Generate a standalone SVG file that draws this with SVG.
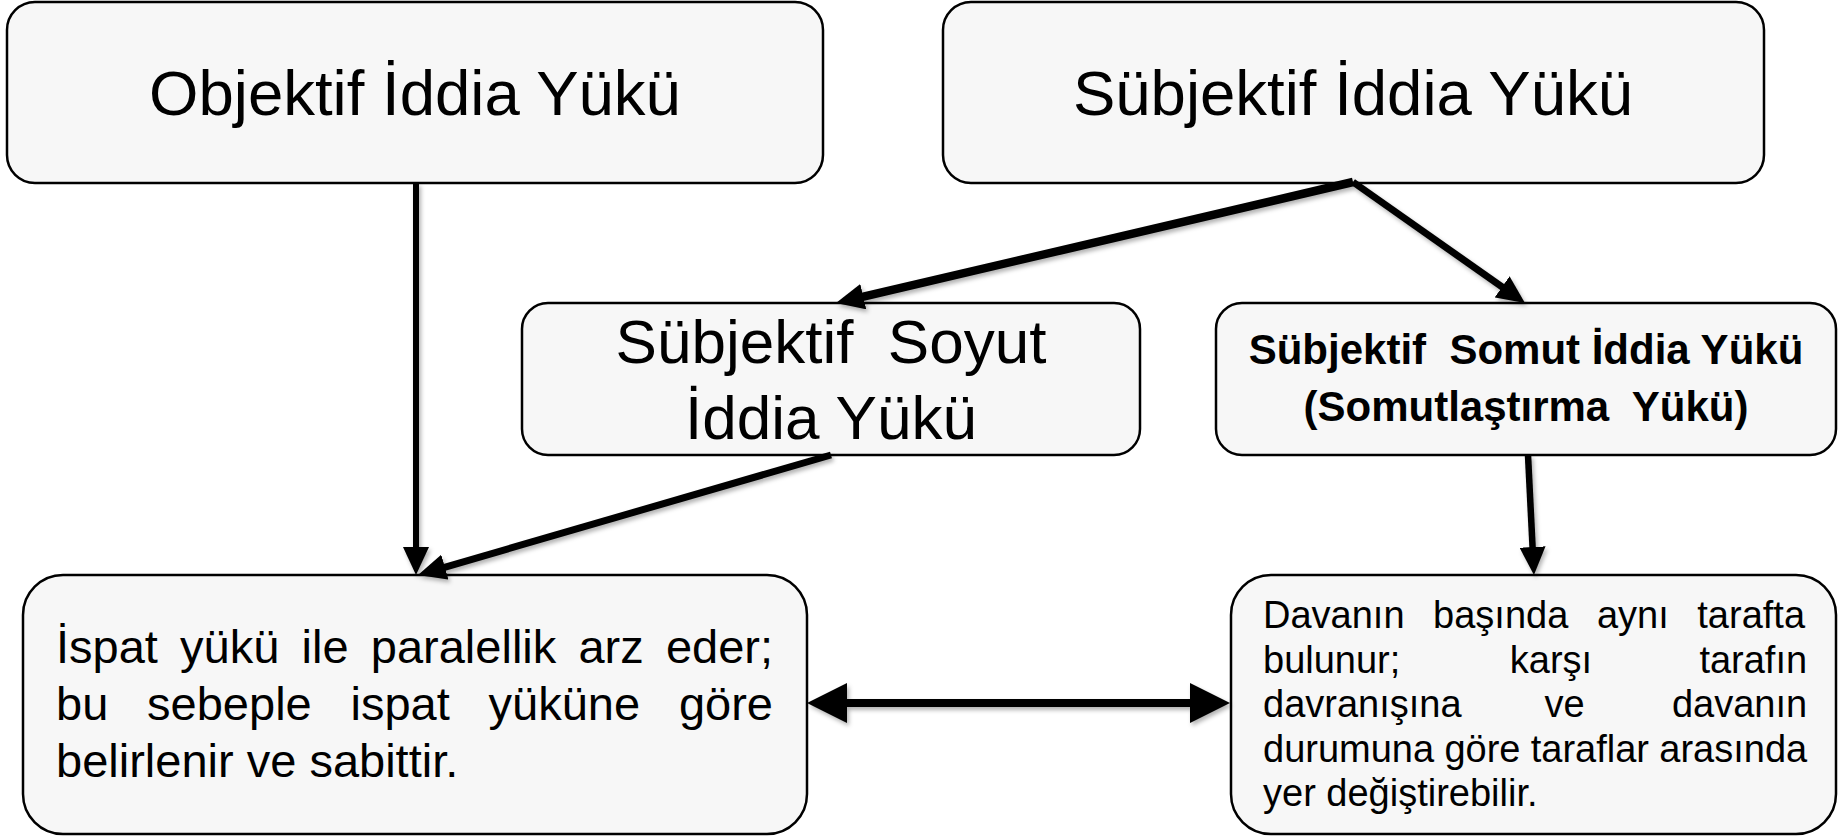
<svg xmlns="http://www.w3.org/2000/svg" width="1839" height="836" viewBox="0 0 1839 836">
  <style>
    .box { fill: #f7f7f7; stroke: #000; stroke-width: 2.5; }
    .t { font-family: "Liberation Sans", Arial, sans-serif; fill: #000; }
    .big { font-size: 63.5px; }
    .mid { font-size: 62px; }
    .bold { font-size: 42px; font-weight: bold; }
    .p47 { font-size: 47px; }
    .p38 { font-size: 38px; }
    .pre { white-space: pre; }
    .conn { fill: none; stroke: #000; stroke-linecap: butt; }
  </style>
  <defs>
    <filter id="sh" x="-10%" y="-10%" width="120%" height="130%">
      <feDropShadow dx="2" dy="3" stdDeviation="2" flood-color="#000" flood-opacity="0.3"/>
    </filter>
    <marker id="ah" markerUnits="userSpaceOnUse" viewBox="0 0 28 26" markerWidth="28" markerHeight="26" refX="13" refY="13" orient="auto">
      <path d="M0,0 L28,13 L0,26 z" fill="#000"/>
    </marker>
    <marker id="bh" markerUnits="userSpaceOnUse" viewBox="0 0 40 40" markerWidth="40" markerHeight="40" refX="28" refY="20" orient="auto-start-reverse">
      <path d="M0,0 L40,20 L0,40 z" fill="#000"/>
    </marker>
  </defs>

  <g id="n-objektif">
    <rect class="box" x="7" y="2" width="816" height="181" rx="28"/>
    <text class="t big" x="415" y="115" text-anchor="middle">Objektif İddia Yükü</text>
  </g>

  <g id="n-subjektif">
    <rect class="box" x="943" y="2" width="821" height="181" rx="28"/>
    <text class="t big" x="1353" y="115" text-anchor="middle">Sübjektif İddia Yükü</text>
  </g>

  <g id="n-soyut">
    <rect class="box" x="522" y="303" width="618" height="152" rx="26"/>
    <text class="t mid pre" x="831" y="363" text-anchor="middle">Sübjektif  Soyut</text>
    <text class="t mid" x="831" y="439" text-anchor="middle">İddia Yükü</text>
  </g>

  <g id="n-somut">
    <rect class="box" x="1216" y="303" width="620" height="152" rx="26"/>
    <text class="t bold pre" x="1526" y="364" text-anchor="middle">Sübjektif  Somut İddia Yükü</text>
    <text class="t bold pre" x="1526" y="421" text-anchor="middle">(Somutlaştırma  Yükü)</text>
  </g>

  <g id="n-ispat">
    <rect class="box" x="23" y="575" width="784" height="259" rx="40"/>
    <text class="t p47" y="663"><tspan x="56">İspat</tspan><tspan x="180.1">yükü</tspan><tspan x="301.6">ile</tspan><tspan x="370.8">paralellik</tspan><tspan x="578.4">arz</tspan><tspan x="665.9">eder;</tspan></text>
    <text class="t p47" y="720"><tspan x="56">bu</tspan><tspan x="147.1">sebeple</tspan><tspan x="350.5">ispat</tspan><tspan x="488.6">yüküne</tspan><tspan x="678.9">göre</tspan></text>
    <text class="t p47" x="56" y="777">belirlenir ve sabittir.</text>
  </g>

  <g id="n-davanin">
    <rect class="box" x="1231" y="575" width="605" height="259" rx="40"/>
    <text class="t p38" y="628"><tspan x="1263">Davanın</tspan><tspan x="1433.1">başında</tspan><tspan x="1596.9">aynı</tspan><tspan x="1697.3">tarafta</tspan></text>
    <text class="t p38" y="672.5"><tspan x="1263">bulunur;</tspan><tspan x="1509.8">karşı</tspan><tspan x="1699.4">tarafın</tspan></text>
    <text class="t p38" y="717"><tspan x="1263">davranışına</tspan><tspan x="1544.6">ve</tspan><tspan x="1671.9">davanın</tspan></text>
    <text class="t p38" y="761.5"><tspan x="1263">durumuna</tspan><tspan x="1444.4">göre</tspan><tspan x="1530.7">taraflar</tspan><tspan x="1659.3">arasında</tspan></text>
    <text class="t p38" x="1263" y="806">yer değiştirebilir.</text>
  </g>

  <g id="connectors" filter="url(#sh)">
    <path class="conn" d="M416,183 L416,560" stroke-width="6" marker-end="url(#ah)"/>
    <path class="conn" d="M1353,182 L850.6,299.6" stroke-width="8.5" marker-end="url(#ah)"/>
    <path class="conn" d="M1353,182 L1512.7,294.4" stroke-width="7" marker-end="url(#ah)"/>
    <path class="conn" d="M831,455 L432.4,570.8" stroke-width="7" marker-end="url(#ah)"/>
    <path class="conn" d="M1528,455 L1533.2,560" stroke-width="6.5" marker-end="url(#ah)"/>
    <path class="conn" d="M819,703 L1218,703" stroke-width="8" marker-start="url(#bh)" marker-end="url(#bh)"/>
  </g>
</svg>
